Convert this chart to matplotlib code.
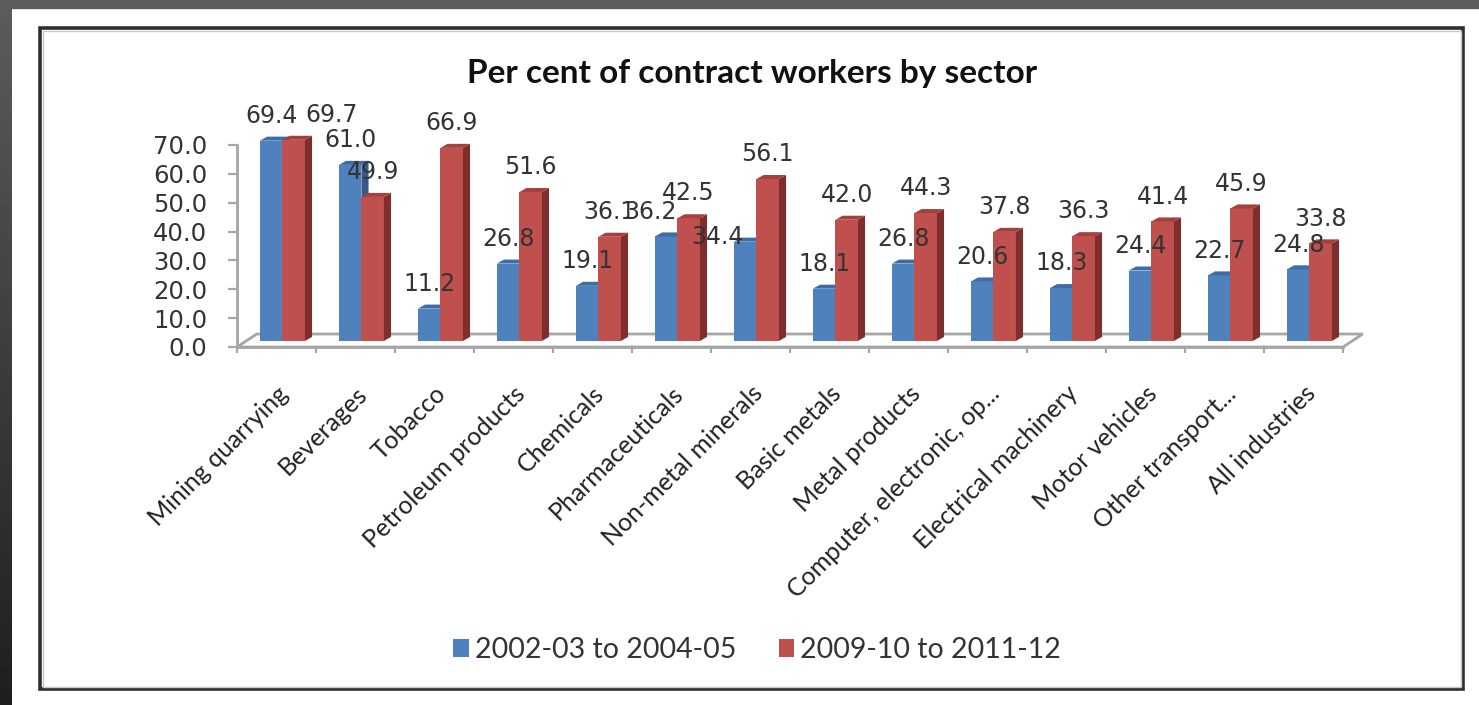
import numpy as np
import matplotlib
matplotlib.use("Agg")
import matplotlib.pyplot as plt
from matplotlib.patches import Polygon, Rectangle

# -----------------------------------------------------------------------------
# Data
# -----------------------------------------------------------------------------

SECTORS = [
    "Mining quarrying", "Beverages", "Tobacco", "Petroleum products",
    "Chemicals", "Pharmaceuticals", "Non-metal minerals", "Basic metals",
    "Metal products", "Computer, electronic, op...", "Electrical machinery",
    "Motor vehicles", "Other transport...", "All industries",
]
PERIOD_1 = [69.4, 61.0, 11.2, 26.8, 19.1, 36.2, 34.4, 18.1, 26.8, 20.6, 18.3, 24.4, 22.7, 24.8]
PERIOD_2 = [69.7, 49.9, 66.9, 51.6, 36.1, 42.5, 56.1, 42.0, 44.3, 37.8, 36.3, 41.4, 45.9, 33.8]
SERIES_NAMES = ["2002-03 to 2004-05", "2009-10 to 2011-12"]
Y_TICKS = [0, 10, 20, 30, 40, 50, 60, 70]

# -----------------------------------------------------------------------------
# Style
# -----------------------------------------------------------------------------

W, H = 1479, 705
FRONT = ["#4F81BD", "#C0504D"]
SIDE  = ["#36598a", "#7e2f2d"]
TOP   = ["#3f6ca6", "#a4403d"]
GRID  = "#a6a6a6"
TEXT  = "#333333"

BAR_W    = 0.285    # bar width in category units
BAR_OFF  = 0.29     # left edge of first bar inside a category
BASE_Y   = 2.1      # bars sit a little back on the floor
SIDE_DX, SIDE_DY = 0.09, 1.4
FLOOR_DX, FLOOR_DY = 0.25, 4.5
LABEL_DY = 8.6
# hand-moved labels in the original (series, index) -> (x shift, y shift)
LABEL_NUDGE = {(1, 0): (0.48, 0), (0, 5): (-0.2, 0), (0, 6): (-0.35, -7.0)}

fig = plt.figure(figsize=(W / 100, H / 100), dpi=100, facecolor="white")

# dark frame round the picture
fig.patches.append(Rectangle((0, 1 - 8 / H), 1, 8 / H, transform=fig.transFigure,
                             color="#5c5c5c", zorder=0))
grad_ax = fig.add_axes([0, 0, 12 / W, 1 - 8 / H])
grad_ax.imshow(np.linspace(0.36, 0.12, 256)[:, None], cmap="gray", vmin=0, vmax=1,
               aspect="auto")
grad_ax.axis("off")

# chart area border
fig.patches.append(Rectangle((40 / W, 1 - 689 / H), (1463 - 40) / W, (689 - 28) / H,
                             transform=fig.transFigure, fill=False,
                             edgecolor="#2e2e2e", lw=2.6, zorder=1))
fig.patches.append(Rectangle((42.5 / W, 1 - 686.5 / H), (1460.5 - 42.5) / W, (686.5 - 30.5) / H,
                             transform=fig.transFigure, fill=False,
                             edgecolor="#c8c8c8", lw=1.0, zorder=1))

ax = fig.add_axes([237 / W, 1 - 347 / H, 1106 / W, 202 / H])
ax.set_xlim(0, len(SECTORS))
ax.set_ylim(0, 70)
ax.patch.set_alpha(0)
for s in ["top", "right", "bottom"]:
    ax.spines[s].set_visible(False)
ax.spines["left"].set_color(GRID)
ax.spines["left"].set_linewidth(2)

# floor
n = len(SECTORS)
floor = Polygon([(0, 0), (n, 0), (n + FLOOR_DX, FLOOR_DY), (FLOOR_DX, FLOOR_DY)],
                closed=True, fill=False, edgecolor=GRID, lw=2, clip_on=False, zorder=1)
ax.add_patch(floor)

# bars
x = np.arange(n)
for k, vals in enumerate([PERIOD_1, PERIOD_2]):
    left = x + BAR_OFF + k * BAR_W
    ax.bar(left, vals, width=BAR_W, bottom=BASE_Y, align="edge", color=FRONT[k],
           lw=0, zorder=2 + k, clip_on=False, label=SERIES_NAMES[k])
    for i, v in enumerate(vals):
        x0, x1 = left[i], left[i] + BAR_W
        y0, y1 = BASE_Y, BASE_Y + v
        ax.add_patch(Polygon([(x1, y0), (x1 + SIDE_DX, y0 + SIDE_DY),
                              (x1 + SIDE_DX, y1 + SIDE_DY), (x1, y1)],
                             color=SIDE[k], lw=0, zorder=2 + k, clip_on=False))
        ax.add_patch(Polygon([(x0, y1), (x1, y1), (x1 + SIDE_DX, y1 + SIDE_DY),
                              (x0 + SIDE_DX, y1 + SIDE_DY)],
                             color=TOP[k], lw=0, zorder=2 + k, clip_on=False))
        ndx, ndy = LABEL_NUDGE.get((k, i), (0, 0))
        ax.text((x0 + x1) / 2 + ndx, y1 + LABEL_DY + ndy, f"{v:.1f}",
                ha="center", va="center", fontsize=17, color=TEXT,
                family="DejaVu Sans", zorder=6, clip_on=False)

# axes ticks
ax.set_yticks(Y_TICKS)
ax.set_yticklabels([f"{t:.1f}" for t in Y_TICKS], fontsize=17.5, color=TEXT,
                   family="DejaVu Sans")
ax.tick_params(axis="y", direction="out", length=6.5, width=1.6, color=GRID, pad=15)

ax.set_xticks(np.arange(n + 1), minor=True)
ax.set_xticks(x + 0.5)
ax.set_xticklabels(SECTORS, rotation=45, ha="right", rotation_mode="anchor",
                   fontsize=18, color="#222222", family="Lato")
ax.tick_params(axis="x", which="major", length=0, pad=25)
ax.tick_params(axis="x", which="minor", direction="out", length=4.5, width=1.6, color=GRID)
ax.plot([0, n], [0, 0], color=GRID, lw=2, clip_on=False, zorder=1)

fig.text(752 / W, 1 - 73 / H, "Per cent of contract workers by sector", ha="center",
         va="center", fontsize=24, fontweight="bold", family="Lato", color="#111111")

handles, labels = ax.get_legend_handles_labels()
fig.legend(handles, labels, loc="center", bbox_to_anchor=(757 / W, 1 - 650 / H), ncol=2,
           frameon=False, prop={"family": "Lato", "size": 20.5}, handlelength=0.55,
           handleheight=0.6, handletextpad=0.2, columnspacing=1.5, labelcolor=TEXT)

fig.savefig("out.png", dpi=100, facecolor="white")
